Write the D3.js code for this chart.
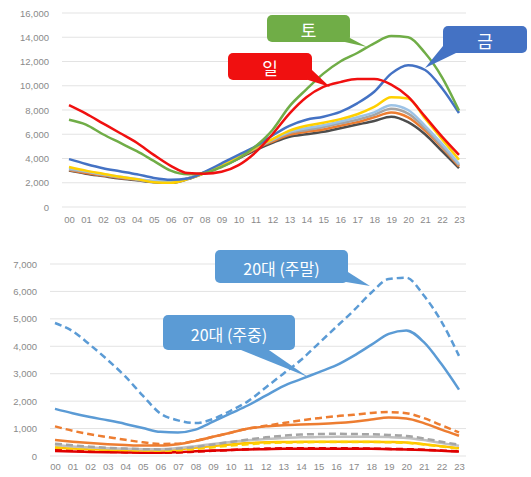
<!DOCTYPE html>
<html><head><meta charset="utf-8">
<script src="https://cdn.jsdelivr.net/npm/d3@7"></script>
<style>
html,body{margin:0;padding:0;background:#fff;}
svg{display:block;}
</style></head>
<body>
<svg id="chart" width="531" height="477"></svg>
<script>
// ---------- DATA ----------
const hours = ["00","01","02","03","04","05","06","07","08","09","10","11","12","13","14","15","16","17","18","19","20","21","22","23"];

// Top chart: daily totals by weekday
const topTicks = [0,2000,4000,6000,8000,10000,12000,14000,16000];
const sunValues = [8400,7700,6900,6100,5300,4300,3400,2800,2750,2900,3450,4500,6000,7700,9050,9900,10300,10550,10550,10100,9100,7450,5800,4300];
const satValues = [7200,6800,6000,5300,4600,3800,3000,2700,2800,3300,4000,5000,6350,8300,9700,11000,12000,12700,13500,14100,14000,12700,10700,7950];
const friValues = [3950,3550,3200,2950,2700,2400,2250,2350,2900,3600,4300,5000,5900,6700,7200,7450,7850,8550,9500,11000,11700,11300,9800,7750];
const thuValues = [3300,3000,2750,2500,2300,2050,2000,2300,2800,3400,4100,4900,5600,6300,6700,6950,7250,7650,8250,9050,8950,7300,5600,3900];
const wedValues = [3200,2950,2700,2500,2300,2150,2100,2350,2850,3450,4100,4900,5550,6200,6500,6750,7050,7400,7800,8400,8000,6700,5200,3550];
const tueValues = [3100,2900,2650,2450,2250,2100,2050,2350,2850,3450,4100,4850,5500,6100,6350,6600,6900,7200,7600,8100,7700,6500,5000,3450];
const monValues = [3050,2800,2600,2400,2250,2100,2050,2350,2850,3400,4050,4800,5400,5950,6200,6400,6700,7000,7400,7800,7400,6300,4900,3350];
const etcValues = [3000,2750,2550,2350,2200,2050,2000,2300,2800,3350,4000,4700,5300,5800,6000,6200,6500,6800,7100,7450,7000,6000,4600,3200];

// Bottom chart: by age group, weekday (solid) vs weekend (dashed)
const bottomTicks = [0,1000,2000,3000,4000,5000,6000,7000];
const age20Weekend = [4850,4550,4050,3500,2900,2200,1550,1300,1200,1350,1650,2000,2500,3000,3500,4100,4700,5300,5950,6450,6500,5850,4900,3650];
const age20Weekday = [1720,1560,1420,1300,1170,1020,880,860,960,1250,1550,1850,2200,2550,2800,3050,3300,3650,4050,4450,4580,4150,3350,2420];
const age30Weekend = [1080,920,790,690,590,500,440,450,550,700,850,1000,1100,1200,1300,1380,1450,1500,1570,1600,1560,1380,1120,860];
const age30Weekday = [580,520,470,430,400,380,380,430,550,700,850,1000,1080,1120,1150,1170,1200,1250,1330,1400,1370,1200,960,740];
const age40Weekend = [450,390,340,300,270,250,240,270,330,420,510,600,680,740,780,800,810,800,790,770,730,640,520,410];
const age40Weekday = [400,350,310,280,260,250,250,290,360,440,510,570,620,660,680,690,700,700,700,690,660,580,470,370];
const age50Weekend = [330,290,260,240,220,200,190,210,260,320,380,430,470,490,500,510,510,510,510,500,480,420,350,270];
const age50Weekday = [300,270,250,230,220,210,210,240,300,360,420,470,500,510,520,520,520,520,520,510,490,430,360,280];
const age60Weekend = [220,190,170,150,140,130,120,130,160,190,220,250,270,280,280,280,280,280,270,260,250,230,200,170];
const age60Weekday = [180,160,150,140,130,120,120,140,170,200,220,240,250,260,260,260,260,260,260,250,240,220,190,160];

// callout labels
const topLabels = ["토","일","금"];
const bottomLabels = ["20대 (주말)","20대 (주중)"];

// ---------- DRAW ----------
const svg = d3.select("#chart");
const fmt = d3.format(",");
const tickFont = "'Liberation Sans', Arial, sans-serif";
const krFont = "'Noto Sans CJK KR', sans-serif";

function drawPanel(cfg){
  const g = svg.append("g");
  const x = d3.scalePoint().domain(hours).range(cfg.xRange);
  const y = d3.scaleLinear().domain([0, cfg.yMax]).range(cfg.yRange);
  g.append("g").selectAll("line").data(cfg.ticks).join("line")
    .attr("x1", cfg.gridX[0]).attr("x2", cfg.gridX[1])
    .attr("y1", d=>y(d)).attr("y2", d=>y(d))
    .attr("stroke", "#e3e3e3").attr("stroke-width", 1);
  const ya = d3.axisLeft(y).tickValues(cfg.ticks).tickFormat(fmt).tickSize(0).tickPadding(0);
  const yg = g.append("g").attr("transform", `translate(${cfg.yLabelX},0)`).call(ya);
  yg.select(".domain").remove();
  yg.selectAll("text").attr("fill","#8a8a8a").style("font-family", tickFont).style("font-size","9.5px");
  const xa = d3.axisBottom(x).tickSize(0).tickPadding(0);
  const xg = g.append("g").attr("transform", `translate(0,${cfg.xLabelY})`).call(xa);
  xg.select(".domain").remove();
  xg.selectAll("text").attr("fill","#8a8a8a").style("font-family", tickFont).style("font-size","9.5px");
  const line = d3.line().x((d,i)=>x(hours[i])).y(d=>y(d)).curve(d3.curveMonotoneX);
  cfg.series.forEach(s=>{
    g.append("path").datum(s.values)
      .attr("d", line).attr("fill","none")
      .attr("stroke", s.color).attr("stroke-width", s.width || 2.5)
      .attr("stroke-linejoin","round")
      .attr("stroke-dasharray", s.dash ? "7,4" : null);
  });
  return g;
}

drawPanel({
  xRange:[69,459], yRange:[207,13], yMax:16000, ticks: topTicks,
  gridX:[62,466], yLabelX:49, xLabelY:216,
  series:[
    {values: etcValues, color:"#4d4d4d"},
    {values: monValues, color:"#ed7d31"},
    {values: tueValues, color:"#a5a5a5"},
    {values: wedValues, color:"#9dc3e6"},
    {values: thuValues, color:"#ffd000"},
    {values: friValues, color:"#4472c4"},
    {values: satValues, color:"#70ad47"},
    {values: sunValues, color:"#f01010"}
  ]
});

drawPanel({
  xRange:[55,459], yRange:[456,264], yMax:7000, ticks: bottomTicks,
  gridX:[50,466], yLabelX:37, xLabelY:463,
  series:[
    {values: age60Weekday, color:"#e00000"},
    {values: age60Weekend, color:"#e00000", dash:true},
    {values: age50Weekday, color:"#ffc000"},
    {values: age50Weekend, color:"#ffd000", dash:true},
    {values: age40Weekday, color:"#c0c0c0"},
    {values: age40Weekend, color:"#a5a5a5", dash:true},
    {values: age30Weekday, color:"#ed7d31"},
    {values: age30Weekend, color:"#ed7d31", dash:true},
    {values: age20Weekday, color:"#5b9bd5"},
    {values: age20Weekend, color:"#5b9bd5", dash:true}
  ]
});

function callout(b){
  const g = svg.append("g");
  g.append("path").attr("d", `M${b.tail[0][0]},${b.tail[0][1]}L${b.tail[2][0]},${b.tail[2][1]}L${b.tail[1][0]},${b.tail[1][1]}Z`)
    .attr("fill", b.color);
  g.append("rect").attr("x", b.x).attr("y", b.y).attr("width", b.w).attr("height", b.h)
    .attr("rx", 5).attr("ry", 5).attr("fill", b.color);
  g.append("text").attr("x", b.x + b.w/2).attr("y", b.y + b.h/2 + 1)
    .attr("text-anchor","middle").attr("dominant-baseline","central")
    .attr("fill","#fff").style("font-family", krFont).style("font-size", b.fs + "px")
    .text(b.text);
}
callout({text: topLabels[0], color:"#70ad47", x:267, y:15, w:83, h:27, fs:17,
  tail:[[336,40],[350,38],[367,47]]});
callout({text: topLabels[1], color:"#f01010", x:228, y:53, w:84, h:27, fs:17,
  tail:[[302,78],[312,70],[330,87]]});
callout({text: topLabels[2], color:"#4472c4", x:443, y:26, w:84, h:27, fs:17,
  tail:[[443,46],[456,53],[425,68]]});
callout({text: bottomLabels[0], color:"#5b9bd5", x:215, y:250, w:133, h:33, fs:16,
  tail:[[340,281],[348,272],[370,286]]});
callout({text: bottomLabels[1], color:"#5b9bd5", x:163, y:315, w:132, h:35, fs:16,
  tail:[[236,348],[266,348],[308,377]]});
</script>
</body></html>
